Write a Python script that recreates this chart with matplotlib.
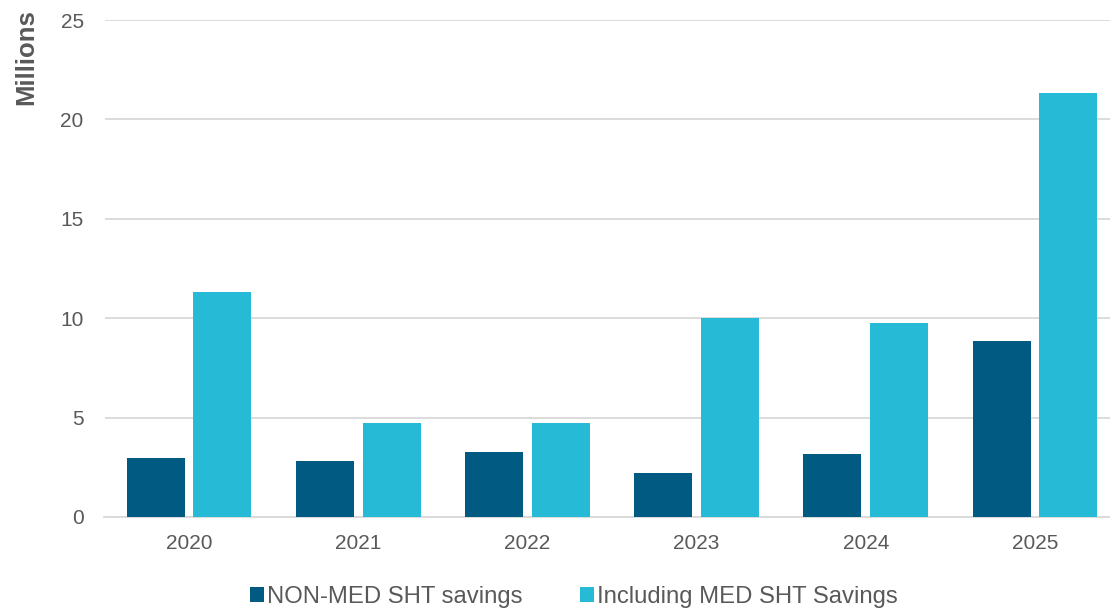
import matplotlib
matplotlib.use("Agg")
import matplotlib.pyplot as plt
import numpy as np

years = ["2020", "2021", "2022", "2023", "2024", "2025"]
non_med = [2.95, 2.84, 3.26, 2.23, 3.15, 8.86]
incl_med = [11.34, 4.75, 4.75, 10.0, 9.77, 21.33]
series_names = ["NON-MED SHT savings", "Including MED SHT Savings"]
yticks = [0, 5, 10, 15, 20, 25]

plt.rcParams['font.family'] = ['Liberation Sans Narrow', 'Liberation Sans', 'DejaVu Sans']

fig = plt.figure(figsize=(11.1, 6.11), dpi=100)
ax = fig.add_axes([104.5/1110, 1-517/611, 1015/1110, 497/611])

x = np.arange(len(years))
w = 0.343
off = 0.197
c1, c2 = "#005A82", "#27BAD7"
ax.bar(x - off, non_med, w, color=c1, label=series_names[0], zorder=3)
ax.bar(x + off, incl_med, w, color=c2, label=series_names[1], zorder=3)

ax.set_xlim(-0.5, len(years) - 0.5)
ax.set_ylim(0, 25)
ax.set_yticks(yticks)
ax.set_xticks(x)
ax.set_xticklabels(years)
ax.grid(axis='y', color='#d9d9d9', linewidth=1.3, zorder=0)
ax.set_axisbelow(True)
for s in ['top', 'right', 'left']:
    ax.spines[s].set_visible(False)
ax.spines['bottom'].set_color('#d9d9d9')
ax.spines['bottom'].set_linewidth(1.3)
ax.tick_params(axis='both', length=0, labelsize=15, labelcolor='#595959')
ax.tick_params(axis='x', pad=12)
ax.tick_params(axis='y', pad=15)

fig.text(26/1110, 1-57/611, "Millions", rotation=90, fontsize=18.5, fontweight='bold',
         color='#595959', ha='center', va='center')

leg = fig.legend(loc='center', bbox_to_anchor=(574/1110, 1-597/611), ncol=2, frameon=False,
                 fontsize=17.2, handlelength=0.59, handleheight=0.59, handletextpad=0.12,
                 columnspacing=2.4)
for t in leg.get_texts():
    t.set_color('#595959')

fig.savefig("out.png", dpi=100)
